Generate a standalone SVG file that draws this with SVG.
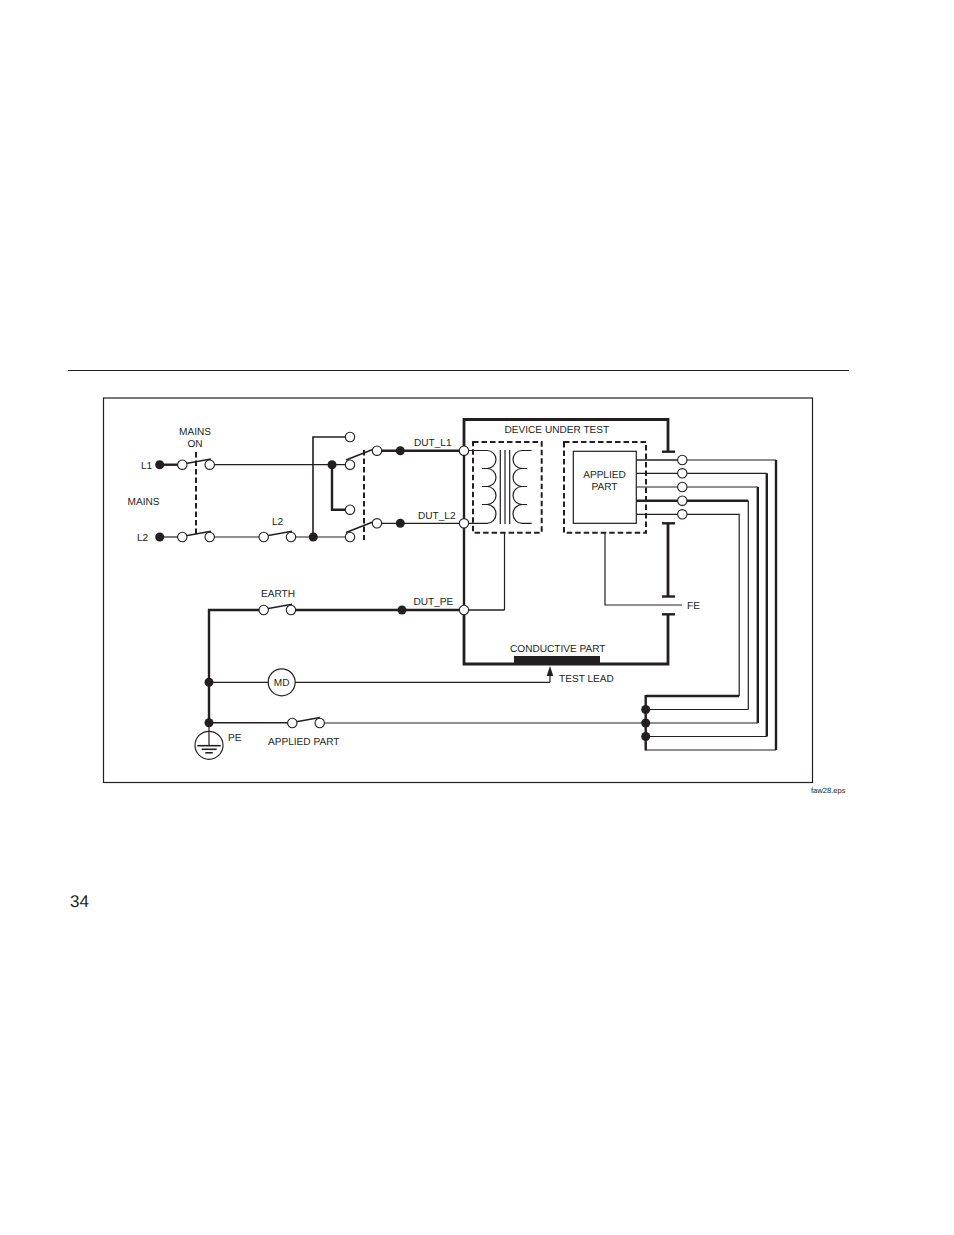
<svg xmlns="http://www.w3.org/2000/svg" width="954" height="1235" viewBox="0 0 954 1235">
<style>
.bg{fill:#fff}
line,path,polyline,rect,circle{fill:none;stroke:#231f20}
.t1{stroke-width:1.2}
.t2{stroke-width:1.6}
.t3{stroke-width:2.4}
.t4{stroke-width:2.8}
.d{stroke-width:2;stroke-dasharray:5.5 3}
.o{fill:#fff;stroke-width:1.1}
.s{fill:#231f20;stroke:none}
text{font-family:"Liberation Sans",Arial,sans-serif;font-size:10.1px;fill:#231f20;text-rendering:geometricPrecision}
.m{text-anchor:middle}
</style>
<defs>
<circle id="open" class="o" r="4.7"/>
<circle id="dot" class="s" r="4.5"/>
</defs>
<rect class="bg" style="stroke:none" width="954" height="1235"/>
<g id="page-frame">
<line class="t1" x1="68" y1="370.5" x2="849" y2="370.5"/>
<rect class="t1" x="103.5" y="398" width="709" height="384.5"/>
</g>
<g id="device-under-test">
<polyline class="t4" points="464,450 464,419.5 668,419.5 668,451.7"/>
<line class="t3" x1="662" y1="451.7" x2="675" y2="451.7"/>
<line class="t3" x1="662" y1="523.3" x2="675" y2="523.3"/>
<line class="t4" x1="668" y1="523.3" x2="668" y2="596.5"/>
<line class="t3" x1="662" y1="596.5" x2="675" y2="596.5"/>
<line class="t3" x1="662" y1="614.3" x2="675" y2="614.3"/>
<polyline class="t4" points="668,614.3 668,664 464,664 464,610"/>
<rect class="s" x="514" y="656" width="86" height="8"/>
</g>
<g id="connectors">
<line class="t3" x1="160" y1="464.7" x2="182" y2="464.7"/>
<line class="t1" x1="210" y1="464.7" x2="350" y2="464.7"/>
<line class="t1" x1="160" y1="537" x2="182" y2="537"/>
<line class="t1" x1="210" y1="537" x2="264" y2="537"/>
<line class="t1" x1="291" y1="537" x2="350" y2="537"/>
<polyline class="t2" points="313,537 313,437 350,437"/>
<polyline class="t3" points="332,464.7 332,509.7 350,509.7"/>
<line class="t3" x1="377" y1="450.7" x2="464" y2="450.7"/>
<line class="t1" x1="377" y1="523.3" x2="464" y2="523.3"/>
<polyline class="t3" points="209,722.7 209,610 264,610"/>
<line class="t3" x1="291" y1="610" x2="464" y2="610"/>
<line class="t3" x1="464" y1="450.7" x2="464" y2="610"/>
<line class="t1" x1="209" y1="682.3" x2="550" y2="682.3"/>
<line class="t1" x1="550" y1="682.3" x2="550" y2="674"/>
<path class="s" d="M550 666 L553.3 676 H546.7 Z"/>
<line class="t2" x1="209" y1="722.8" x2="292" y2="722.8"/>
<line class="t1" x1="320" y1="723" x2="646" y2="723"/>
<line class="t1" x1="504.5" y1="532.7" x2="504.5" y2="610"/>
<line class="t2" x1="464" y1="610" x2="504.5" y2="610"/>
<polyline class="t1" points="605,532.7 605,605 682,605"/>
<polyline class="t2" points="636.5,460 682,460"/>
<polyline class="t1" points="682,460 776,460"/>
<line class="t3" x1="776" y1="460" x2="776" y2="750"/>
<polyline class="t1" points="636.5,473.3 766.8,473.3"/>
<line class="t3" x1="766.8" y1="473.3" x2="766.8" y2="736.5"/>
<polyline class="t1" points="636.5,487 757.8,487"/>
<line class="t3" x1="757.8" y1="487" x2="757.8" y2="723"/>
<polyline class="t3" points="636.5,500.7 748.3,500.7"/>
<line class="t1" x1="748.3" y1="500.7" x2="748.3" y2="709.5"/>
<polyline class="t1" points="636.5,514.3 739.2,514.3 739.2,696"/>
<line class="t3" x1="739.2" y1="696" x2="645.7" y2="696"/>
<line class="t1" x1="645.7" y1="709.5" x2="748.3" y2="709.5"/>
<line class="t1" x1="645.7" y1="723" x2="757.8" y2="723"/>
<line class="t1" x1="645.7" y1="736.5" x2="766.8" y2="736.5"/>
<line class="t1" x1="645.7" y1="750" x2="776" y2="750"/>
<line class="t3" x1="645.7" y1="695" x2="645.7" y2="750.5"/>
</g>
<g id="mains-on-switch">
<line class="d" x1="196" y1="452" x2="196" y2="534"/>
<line class="t2" x1="186" y1="463.5" x2="211" y2="459"/>
<line class="t2" x1="186" y1="535.8" x2="211" y2="531.3"/>
</g>
<g id="dut-switch">
<line class="d" x1="364" y1="450" x2="364" y2="540"/>
<line class="t2" x1="346" y1="460" x2="374" y2="449"/>
<line class="t2" x1="346" y1="532.5" x2="374" y2="521.5"/>
</g>
<g id="l2-switch"><line class="t2" x1="267" y1="535.8" x2="292" y2="531.3"/></g>
<g id="earth-switch"><line class="t2" x1="267" y1="608.8" x2="292" y2="604.3"/></g>
<g id="applied-part-switch"><line class="t2" x1="295" y1="722" x2="320" y2="717.5"/></g>
<g id="terminals">
<use href="#dot" x="159.7" y="464.7"/>
<use href="#dot" x="159.7" y="537"/>
<use href="#open" x="182.3" y="464.7"/>
<use href="#open" x="209.7" y="464.7"/>
<use href="#open" x="182.3" y="537"/>
<use href="#open" x="209.7" y="537"/>
<use href="#open" x="263.7" y="537"/>
<use href="#open" x="291" y="537"/>
<use href="#dot" x="313.3" y="537"/>
<use href="#dot" x="332" y="464.7"/>
<use href="#open" x="350" y="437"/>
<use href="#open" x="350" y="464.7"/>
<use href="#open" x="350" y="509.7"/>
<use href="#open" x="350" y="537"/>
<use href="#open" x="377" y="450.7"/>
<use href="#open" x="377" y="523.3"/>
<use href="#dot" x="400.3" y="450.7"/>
<use href="#dot" x="400.3" y="523.3"/>
<use href="#open" x="263.7" y="610"/>
<use href="#open" x="291" y="610"/>
<use href="#dot" x="402" y="610"/>
<use href="#dot" x="209" y="682.3"/>
<use href="#dot" x="209" y="722.7"/>
<use href="#open" x="292.3" y="723"/>
<use href="#open" x="319.7" y="723"/>
<use href="#open" x="682.3" y="460"/>
<use href="#open" x="682.3" y="473.3"/>
<use href="#open" x="682.3" y="487"/>
<use href="#open" x="682.3" y="500.7"/>
<use href="#open" x="682.3" y="514.3"/>
<use href="#dot" x="645.7" y="709.5"/>
<use href="#dot" x="645.7" y="723"/>
<use href="#dot" x="645.7" y="736.5"/>
</g>
<g id="transformer">
<rect class="d" x="473" y="442" width="68.7" height="90.7"/>
<path class="t1" d="M464 450.5H487A9 9 0 0 1 487 468.5H482M487 468.5A9 9 0 0 1 487 486.5H482M487 486.5A9 9 0 0 1 487 504.5H482M487 504.5A9 9.4 0 0 1 487 523.3H464"/>
<path class="t1" d="M531.7 450.5H522A9 9 0 0 0 522 468.5H527M522 468.5A9 9 0 0 0 522 486.5H527M522 486.5A9 9 0 0 0 522 504.5H527M522 504.5A9 9.4 0 0 0 522 523.3H531.7"/>
<line class="t1" x1="500.3" y1="450" x2="500.3" y2="524"/>
<line class="t1" x1="505" y1="450" x2="505" y2="524"/>
<line class="t1" x1="509.7" y1="450" x2="509.7" y2="524"/>
</g>
<g id="dut-terminals">
<use href="#open" x="464" y="450.7"/>
<use href="#open" x="464" y="523.3"/>
<use href="#open" x="464" y="610"/>
</g>
<g id="applied-part">
<rect class="d" x="564" y="442" width="82" height="90.7"/>
<rect class="t1" style="fill:#fff" x="573.3" y="451.3" width="63" height="72"/>
<text class="m" x="604.5" y="478">APPLIED</text>
<text class="m" x="604.5" y="490">PART</text>
</g>
<g id="md-meter">
<circle class="t1" style="fill:#fff" cx="281.7" cy="682.3" r="13.5"/>
<text class="m" x="281.7" y="685.6">MD</text>
</g>
<g id="pe-ground">
<circle class="t1" cx="209" cy="745.3" r="14"/>
<line class="t1" x1="209" y1="723" x2="209" y2="745.7"/>
<line class="t2" x1="197.3" y1="745.7" x2="220.7" y2="745.7"/>
<line class="t2" x1="201.7" y1="749.3" x2="216.7" y2="749.3"/>
<line class="t2" x1="205.3" y1="752.8" x2="212.7" y2="752.8"/>
</g>
<g id="labels">
<text class="m" x="195" y="435">MAINS</text>
<text class="m" x="195" y="447">ON</text>
<text x="141" y="469">L1</text>
<text x="127.5" y="505">MAINS</text>
<text x="137" y="541">L2</text>
<text x="272" y="525">L2</text>
<text x="414" y="446">DUT_L1</text>
<text x="418" y="519">DUT_L2</text>
<text x="261" y="597">EARTH</text>
<text x="413.5" y="605">DUT_PE</text>
<text x="504.5" y="433">DEVICE UNDER TEST</text>
<text x="687" y="609">FE</text>
<text x="510" y="652">CONDUCTIVE PART</text>
<text x="559" y="682">TEST LEAD</text>
<text x="228" y="741">PE</text>
<text x="268" y="745">APPLIED PART</text>
<text x="811" y="793" style="font-size:7.6px">faw28.eps</text>
<text x="70" y="907" style="font-size:17px">34</text>
</g>
</svg>
